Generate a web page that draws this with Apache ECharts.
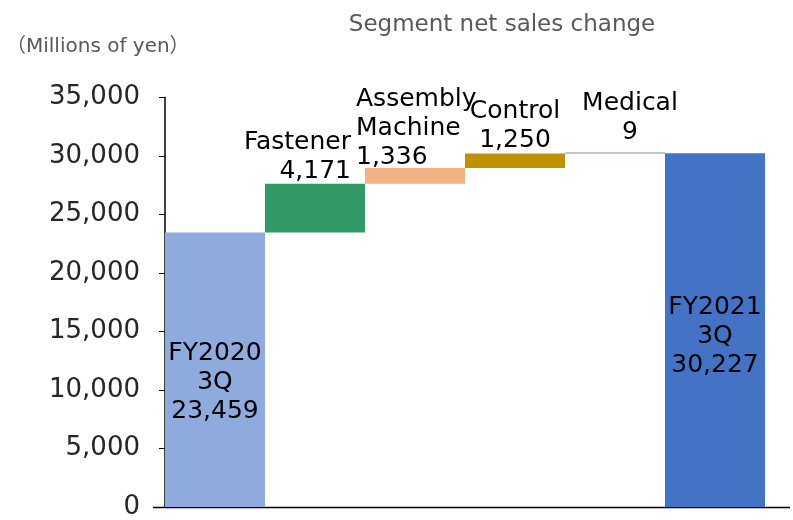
<!DOCTYPE html>
<html>
<head>
<meta charset="utf-8" />
<title></title>
<style>html,body{margin:0;padding:0;background:#fff}</style>
</head>
<body>
<div id="main" style="width:793px;height:520px"></div>
<script src="https://cdn.jsdelivr.net/npm/echarts@6/dist/echarts.min.js"></script>
<script type="text/javascript">
var categories = ['FY2020\n3Q', 'Fastener', 'Assembly\nMachine', 'Control', 'Medical', 'FY2021\n3Q'];
var startTotal = 23459;
var deltas = [4171, 1336, 1250, 9];
var endTotal = 30227;
var barColors = ['#8faadc', '#339966', '#f4b183', '#bf9000', '#7f8fb0', '#4472c4'];
var yTicks = [0, 5000, 10000, 15000, 20000, 25000, 30000, 35000];

// base (invisible) + visible part for the waterfall
var baseVals = [0];
var showVals = [startTotal];
var run = startTotal;
deltas.forEach(function (d) {
    baseVals.push(run);
    showVals.push(d);
    run += d;
});
baseVals.push(0);
showVals.push(endTotal);

var labelSetups = [
    { position: 'inside', offset: [0, 13] },
    { position: 'top', align: 'right', offset: [36, 2] },
    { position: 'top', align: 'left', offset: [-59, 4] },
    { position: 'top', align: 'center', offset: [0, 2] },
    { position: 'top', align: 'center', offset: [15, -5] },
    { position: 'inside', offset: [0, 6] }
];

var fnt = 'DejaVu Sans, Noto Sans CJK JP, sans-serif';

var myChart = echarts.init(document.getElementById('main'));
var option = {
    backgroundColor: '#fff',
    animation: false,
    title: {
        text: 'Segment net sales change',
        left: 497,
        top: 9,
        textAlign: 'center',
        textStyle: { fontFamily: fnt, fontSize: 23, fontWeight: 'normal', color: '#595959' }
    },
    graphic: [
        {
            type: 'text', left: 6, top: 37,
            style: { text: '（Millions of yen）', font: '20px ' + fnt, fill: '#595959' }
        },
        {
            type: 'line',
            shape: { x1: 153, y1: 507.5, x2: 790, y2: 507.5 },
            style: { stroke: '#000', lineWidth: 1.5 }
        }
    ],
    grid: { left: 165, right: 28, top: 97.5, bottom: 13 },
    xAxis: {
        type: 'category',
        data: categories,
        axisLine: { show: false },
        axisTick: { show: false },
        axisLabel: { show: false }
    },
    yAxis: {
        type: 'value',
        min: 0,
        max: yTicks[yTicks.length - 1],
        interval: 5000,
        splitLine: { show: false },
        axisLine: { show: true, lineStyle: { color: '#000', width: 1.5 } },
        axisTick: { show: true, length: 6, lineStyle: { color: '#000' } },
        axisLabel: {
            fontFamily: fnt, fontSize: 26, color: '#262626', margin: 25,
            formatter: function (v) { return v.toLocaleString('en-US'); }
        }
    },
    series: [
        {
            type: 'bar',
            stack: 'wf',
            data: baseVals,
            itemStyle: { color: 'transparent' },
            barWidth: '100%',
            silent: true
        },
        {
            type: 'bar',
            stack: 'wf',
            barWidth: '100%',
            barMinHeight: 1,
            data: showVals.map(function (v, i) {
                var ls = labelSetups[i];
                return {
                    value: v,
                    itemStyle: { color: barColors[i] },
                    label: {
                        show: true,
                        position: ls.position,
                        align: ls.align || 'center',
                        offset: ls.offset,
                        distance: 0,
                        fontFamily: fnt,
                        fontSize: 25,
                        lineHeight: 29,
                        color: '#000',
                        formatter: categories[i] + '\n' + v.toLocaleString('en-US')
                    }
                };
            })
        }
    ]
};
myChart.setOption(option);
</script>
</body>
</html>
